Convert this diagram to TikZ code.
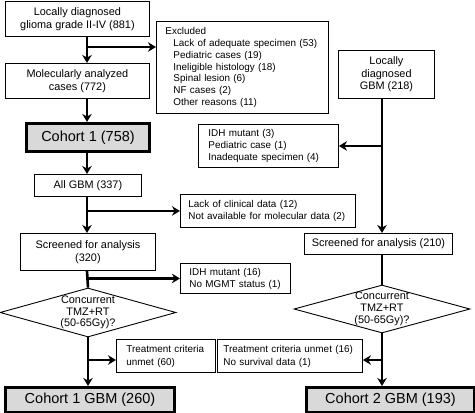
\documentclass[tikz,border=0pt]{standalone}
\usepackage{fontspec}
\setmainfont{Liberation Sans}
\usetikzlibrary{arrows.meta,shapes.geometric}
\definecolor{cgray}{RGB}{217,217,217}
\begin{document}
\begin{tikzpicture}[x=1pt,y=-1pt,
  box/.style={draw, line width=0.9pt, inner sep=0pt, anchor=north west, align=center, font=\fontsize{10.9}{13.5}\selectfont},
  sbox/.style={draw, line width=0.9pt, inner sep=0pt, anchor=north west, align=left, font=\fontsize{9.9}{12}\selectfont},
  cbox/.style={draw, line width=3pt, fill=cgray, inner sep=0pt, anchor=north west, font=\fontsize{14.5}{16}\selectfont},
  dia/.style={diamond, draw, line width=0.9pt, inner sep=0pt, minimum width=176pt},
  dtext/.style={align=center, inner sep=0pt, font=\fontsize{10.9}{11.7}\selectfont},
  arr/.style={line width=2.6pt, -{Stealth[length=8pt,width=9.5pt,inset=2.5pt]}},
  ln/.style={line width=2.6pt}]
\useasboundingbox (0,0) rectangle (475,413);
\coordinate (lx) at (87,0);
\coordinate (rx) at (382,0);
% left column
\node[box, minimum width=144pt, minimum height=35pt] (b1) at (5,1) {Locally diagnosed\\glioma grade II-IV (881)};
\node[box, minimum width=144pt, minimum height=35pt] (b2) at (5,63) {Molecularly analyzed\\cases (772)};
\node[cbox, minimum width=123pt, minimum height=28pt] (c1) at (25,122) {Cohort 1 (758)};
\node[box, minimum width=107pt, minimum height=22pt] (ag) at (34,174) {All GBM (337)};
\node[box, minimum width=135pt, minimum height=37pt] (s1) at (20,233) {Screened for analysis\\(320)};
\node[dia, minimum height=49pt] (d1) at (88,312.5) {};
\node[dtext] (d1t) at (d1.center) {Concurrent\\TMZ+RT\\(50-65Gy)?};
\node[cbox, minimum width=169pt, minimum height=25pt] (cg1) at (4,386) {Cohort 1 GBM (260)};
% side boxes
\node[sbox, font=\fontsize{9.9}{11.7}\selectfont, inner xsep=9pt, text width=154pt, minimum height=92pt] (ex) at (156,21)
  {Excluded\\\hspace*{8pt}Lack of adequate specimen (53)\\\hspace*{8pt}Pediatric cases (19)\\\hspace*{8pt}Ineligible histology (18)\\\hspace*{8pt}Spinal lesion (6)\\\hspace*{8pt}NF cases (2)\\\hspace*{8pt}Other reasons (11)};
\node[sbox, inner xsep=10pt, text width=120pt, minimum height=43pt] (i3) at (198,124)
  {IDH mutant (3)\\Pediatric case (1)\\Inadequate specimen (4)};
\node[sbox, inner xsep=8pt, text width=159pt, minimum height=33pt] (lk) at (180,194)
  {Lack of clinical data (12)\\Not available for molecular data (2)};
\node[sbox, inner xsep=9pt, text width=92pt, minimum height=30pt] (i16) at (180,263)
  {IDH mutant (16)\\No MGMT status (1)};
\node[sbox, font=\fontsize{9.9}{13}\selectfont, inner xsep=10pt, text width=79pt, minimum height=33pt] (t1) at (116,339)
  {Treatment criteria\\unmet (60)};
\node[sbox, font=\fontsize{9.9}{13}\selectfont, inner xsep=6pt, text width=133pt, minimum height=33pt] (t2) at (217,339)
  {Treatment criteria unmet (16)\\No survival data (1)};
% right column
\node[box, font=\fontsize{10.9}{12.5}\selectfont, minimum width=96pt, minimum height=48pt] (gb) at (338,50) {Locally\\diagnosed\\GBM (218)};
\node[box, minimum width=148pt, minimum height=21pt] (s2) at (304,233) {Screened for analysis (210)};
\node[dia, minimum height=48pt] (d2) at (382,309) {};
\node[dtext] (d2t) at (d2.center) {Concurrent\\TMZ+RT\\(50-65Gy)?};
\node[cbox, minimum width=168pt, minimum height=25pt] (cg2) at (305,386) {Cohort 2 GBM (193)};
% junctions
\coordinate (j1) at (87,47);
\coordinate (j5) at (87,360);
\coordinate (j6) at (382,360);
% left connectors
\draw[arr] (b1.south -| lx) -- (b2.north -| lx);
\draw[arr] (j1) -- (j1 -| ex.west);
\draw[arr] (b2.south -| lx) -- (c1.north -| lx);
\draw[arr] (c1.south -| lx) -- (ag.north -| lx);
\draw[arr] (ag.south -| lx) -- (s1.north -| lx);
\draw[arr] (lk.west -| lx) -- (lk.west);
\draw[ln] (s1.south -| lx) -- (d1.north);
\draw[arr] (i16.west -| lx) -- (i16.west);
\draw[arr] (d1.south) -- (cg1.north -| d1.south);
\draw[arr] (j5) -- (j5 -| t1.west);
% right connectors
\draw[arr] (gb.south -| rx) -- (s2.north -| rx);
\draw[arr] (i3.east -| rx) -- (i3.east);
\draw[ln] (s2.south -| rx) -- (d2.north);
\draw[arr] (d2.south) -- (cg2.north -| d2.south);
\draw[arr] (j6) -- (j6 -| t2.east);
\end{tikzpicture}
\end{document}
